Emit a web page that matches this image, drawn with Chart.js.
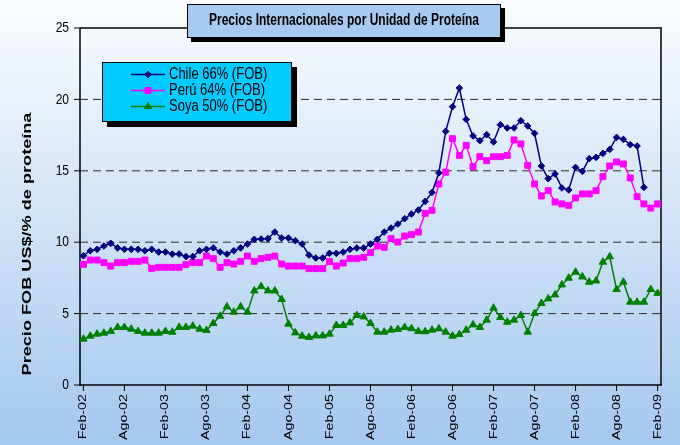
<!DOCTYPE html>
<html>
<head>
<meta charset="utf-8">
<script src="https://cdn.jsdelivr.net/npm/chart.js@4.4.0/dist/chart.umd.min.js"></script>
<style>
  html, body { margin: 0; padding: 0; background: #ffffff; }
  #c { display: block; }
</style>
</head>
<body>
<canvas id="c" width="680" height="445"></canvas>
<script>
// ---------------- DATA ----------------
const chartTitle = 'Precios Internacionales por Unidad de Proteína';
const yAxisTitle = 'Precio FOB US$/% de proteína';
const monthNames = ['Ene','Feb','Mar','Abr','May','Jun','Jul','Ago','Sep','Oct','Nov','Dic'];
const firstYear = 2002, firstMonth = 1, monthCount = 85;   // Feb-02 .. Feb-09
const tickLabelStep = 6;
const yTicks = [0, 5, 10, 15, 20, 25];
const seriesNames = ['Chile 66% (FOB)', 'Perú 64% (FOB)', 'Soya 50% (FOB)'];

const categories = [];
for (let k = 0; k < monthCount; k++) {
  const m = (firstMonth + k) % 12;
  const yr = firstYear + Math.floor((firstMonth + k) / 12);
  categories.push(monthNames[m] + '-' + String(yr).slice(2));
}

const chile = [
  9.05, 9.40, 9.50, 9.73, 9.92, 9.60, 9.50, 9.50, 9.50, 9.40, 9.50, 9.31,
  9.31, 9.17, 9.17, 8.99, 8.99, 9.40, 9.50, 9.60, 9.31, 9.17, 9.40, 9.60,
  9.87, 10.20, 10.22, 10.25, 10.71, 10.29, 10.29, 10.11, 9.87, 9.10, 8.89, 8.89,
  9.22, 9.22, 9.31, 9.50, 9.59, 9.59, 9.87, 10.20, 10.71, 10.99, 11.27, 11.65,
  11.97, 12.25, 12.86, 13.49, 14.85, 17.76, 19.49, 20.80, 18.60, 17.44, 17.11, 17.53,
  17.02, 18.23, 18.00, 18.00, 18.51, 18.14, 17.62, 15.34, 14.45, 14.78, 13.80, 13.66,
  15.24, 14.96, 15.85, 15.94, 16.22, 16.50, 17.34, 17.20, 16.83, 16.74, 13.84, null,
  null
];
const peru = [
  8.45, 8.75, 8.75, 8.57, 8.33, 8.57, 8.57, 8.66, 8.66, 8.75, 8.17, 8.24,
  8.24, 8.24, 8.24, 8.43, 8.57, 8.57, 9.03, 8.85, 8.24, 8.57, 8.47, 8.66,
  9.03, 8.66, 8.85, 8.94, 9.03, 8.47, 8.33, 8.33, 8.33, 8.15, 8.15, 8.15,
  8.64, 8.33, 8.54, 8.85, 8.85, 8.94, 9.27, 9.73, 9.64, 10.25, 10.01, 10.43,
  10.53, 10.71, 12.02, 12.23, 14.08, 14.90, 17.25, 16.08, 16.78, 15.29, 15.99, 15.71,
  15.99, 15.99, 16.08, 17.16, 16.88, 15.38, 14.08, 13.24, 13.61, 12.82, 12.68, 12.58,
  13.10, 13.38, 13.38, 13.61, 14.59, 15.34, 15.62, 15.48, 14.50, 13.19, 12.68, 12.39,
  12.68
];
const soya = [
  3.22, 3.43, 3.57, 3.64, 3.76, 4.04, 4.04, 3.92, 3.76, 3.64, 3.64, 3.64,
  3.76, 3.71, 4.04, 4.04, 4.13, 3.92, 3.83, 4.32, 4.83, 5.48, 5.11, 5.48,
  5.11, 6.60, 6.90, 6.60, 6.60, 6.00, 4.27, 3.66, 3.43, 3.34, 3.45, 3.45,
  3.57, 4.18, 4.18, 4.36, 4.88, 4.78, 4.32, 3.71, 3.71, 3.85, 3.90, 4.04,
  3.95, 3.76, 3.74, 3.85, 3.94, 3.71, 3.43, 3.54, 3.85, 4.22, 4.04, 4.55,
  5.39, 4.74, 4.41, 4.55, 4.88, 3.71, 5.02, 5.72, 6.04, 6.32, 7.02, 7.49,
  7.91, 7.58, 7.21, 7.30, 8.61, 8.99, 6.70, 7.21, 5.81, 5.81, 5.81, 6.70,
  6.42
];

// ---------------- STYLE / HELPERS ----------------
const FONT = "'Liberation Sans', Arial, sans-serif";

function drawText(ctx, text, x, y, o) {
  ctx.save();
  ctx.translate(x, y);
  if (o.rot) ctx.rotate(o.rot);
  ctx.scale(o.sx || 1, o.sy || 1);
  ctx.font = o.font;
  ctx.fillStyle = o.color || '#000';
  ctx.textAlign = o.align || 'left';
  ctx.textBaseline = o.baseline || 'middle';
  ctx.fillText(text, 0, 0);
  ctx.restore();
}

function line(ctx, x1, y1, x2, y2, color, width, dash) {
  ctx.save();
  ctx.strokeStyle = color;
  ctx.lineWidth = width;
  ctx.setLineDash(dash || []);
  ctx.beginPath();
  ctx.moveTo(x1, y1);
  ctx.lineTo(x2, y2);
  ctx.stroke();
  ctx.restore();
}

function shadowBox(ctx, x, y, w, h, fill, off) {
  ctx.save();
  ctx.fillStyle = '#000';
  ctx.fillRect(x + off, y + off, w, h);
  ctx.fillStyle = fill;
  ctx.fillRect(x, y, w, h);
  ctx.strokeStyle = '#000';
  ctx.lineWidth = 1;
  ctx.strokeRect(x + 0.5, y + 0.5, w - 1, h - 1);
  ctx.restore();
}

const backgroundPlugin = {
  id: 'bgGradient',
  beforeDraw(chart) {
    const { ctx, width, height } = chart;
    const g = ctx.createLinearGradient(0, 0, 0, height);
    g.addColorStop(0, '#fbfdff');
    g.addColorStop(1, '#a5c8ee');
    ctx.save();
    ctx.fillStyle = g;
    ctx.fillRect(0, 0, width, height);
    ctx.restore();
  }
};

const axesPlugin = {
  id: 'axesDraw',
  beforeDatasetsDraw(chart) {
    const { ctx, chartArea: a } = chart;
    const ys = chart.scales.y, xs = chart.scales.x;
    ys.ticks.forEach(t => {
      const py = ys.getPixelForValue(t.value);
      if (t.value > ys.min && t.value < ys.max) {
        line(ctx, a.left, py, a.right, py, '#2a2a2a', 1, [8, 5]);
      }
      line(ctx, a.left - 6, py, a.left, py, '#000', 1);
    });
    // frame
    line(ctx, a.left, a.top, a.right + 1, a.top, '#000', 1.5);
    line(ctx, a.right, a.top, a.right, a.bottom, '#3c3c3c', 2);
    line(ctx, a.left, a.top, a.left, a.bottom + 1, '#000', 1.5);
    line(ctx, a.left, a.bottom, a.right + 1, a.bottom, '#000', 1.5);
    for (let i = 0; i < categories.length; i += tickLabelStep) {
      const px = xs.getPixelForValue(i);
      line(ctx, px, a.bottom, px, a.bottom + 6, '#000', 1);
    }
  },
  afterDraw(chart) {
    const { ctx, chartArea: a } = chart;
    const ys = chart.scales.y, xs = chart.scales.x;
    // y tick labels
    ys.ticks.forEach(t => {
      const py = ys.getPixelForValue(t.value);
      drawText(ctx, String(t.value), a.left - 11, py, { font: '12px ' + FONT, align: 'right', sy: 1.25 });
    });
    // x tick labels
    for (let i = 0; i < categories.length; i += tickLabelStep) {
      const px = xs.getPixelForValue(i);
      drawText(ctx, categories[i], px, a.bottom + 9, { font: '11px ' + FONT, align: 'right', rot: -Math.PI / 2, sx: 1.3 });
    }
    // y axis title
    drawText(ctx, yAxisTitle, 28, 244, { font: 'bold 12.5px ' + FONT, align: 'center', rot: -Math.PI / 2, sx: 1.45 });

    // title box
    shadowBox(ctx, 187, 4, 314, 34, '#a6caf0', 4);
    drawText(ctx, chartTitle, 344, 21, { font: 'bold 12px ' + FONT, align: 'center', sy: 1.3 });

    // legend box
    shadowBox(ctx, 102, 62, 190, 60, '#00ccff', 5);
    chart.data.datasets.forEach((ds, k) => {
      const cy = 74.5 + k * 16;
      line(ctx, 131, cy, 165, cy, ds.borderColor, 1.5);
      ctx.save();
      ctx.fillStyle = ds.backgroundColor;
      ctx.strokeStyle = ds.borderColor;
      ctx.lineWidth = 1;
      Chart.helpers.drawPoint(ctx, { pointStyle: ds.pointStyle, radius: ds.pointRadius, rotation: 0, borderWidth: 1 }, 148, cy);
      ctx.restore();
      drawText(ctx, ds.label, 169, cy + 0.5, { font: '13px ' + FONT, align: 'left', sy: 1.2 });
    });
  }
};

// ---------------- CHART ----------------
new Chart(document.getElementById('c'), {
  type: 'line',
  data: {
    labels: categories,
    datasets: [
      { label: seriesNames[0], data: chile, borderColor: '#000080', backgroundColor: '#000080',
        pointStyle: 'rectRot', pointRadius: 3.3, pointBorderWidth: 1, borderWidth: 1.5 },
      { label: seriesNames[1], data: peru, borderColor: '#ff00ff', backgroundColor: '#ff00ff',
        pointStyle: 'rect', pointRadius: 4.2, pointBorderWidth: 1, borderWidth: 1.5 },
      { label: seriesNames[2], data: soya, borderColor: '#008000', backgroundColor: '#008000',
        pointStyle: 'triangle', pointRadius: 4.3, pointBorderWidth: 1, borderWidth: 1.5 }
    ]
  },
  options: {
    responsive: false,
    animation: false,
    events: [],
    layout: { padding: { left: 0, right: 19, top: 28, bottom: 0 } },
    elements: { line: { tension: 0 } },
    plugins: { legend: { display: false }, title: { display: false }, tooltip: { enabled: false } },
    scales: {
      x: {
        type: 'category',
        offset: true,
        grid: { display: false },
        border: { display: false },
        ticks: { display: false },
        afterFit(s) { s.height = 60; }
      },
      y: {
        min: yTicks[0],
        max: yTicks[yTicks.length - 1],
        ticks: { display: false, stepSize: yTicks[1] - yTicks[0] },
        grid: { display: false },
        border: { display: false },
        afterFit(s) { s.width = 80; }
      }
    }
  },
  plugins: [backgroundPlugin, axesPlugin]
});
</script>
</body>
</html>
